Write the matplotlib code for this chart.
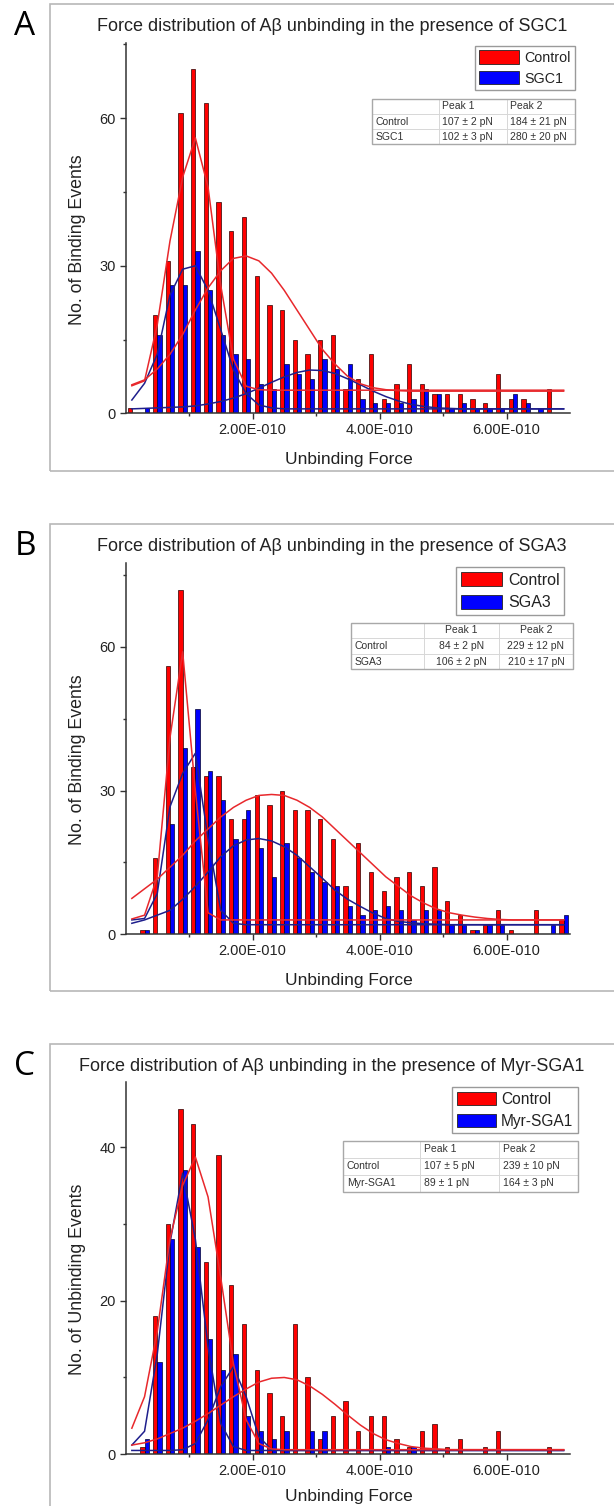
import matplotlib
matplotlib.use("Agg")
import matplotlib.pyplot as plt
from matplotlib.patches import Patch, Rectangle
from matplotlib.ticker import FixedLocator, FuncFormatter

plt.rcParams['font.family'] = ['Liberation Sans', 'DejaVu Sans']

# histogram bin centres, pN (20 pN bins)
force_bins = [10, 30, 50, 70, 90, 110, 130, 150, 170, 190, 210, 230, 250, 270, 290,
              310, 330, 350, 370, 390, 410, 430, 450, 470, 490, 510, 530, 550, 570,
              590, 610, 630, 650, 670, 690]

# --- panel A: SGC1 ---
ctrl_a = [1, 0, 20, 31, 61, 70, 63, 43, 37, 40, 28, 22, 21, 15, 12, 15, 16, 5, 7, 12,
          3, 6, 10, 6, 4, 4, 4, 3, 2, 8, 3, 3, 0, 5, 0]
sgc1_a = [0, 1, 16, 26, 26, 33, 25, 16, 12, 11, 6, 5, 10, 8, 7, 11, 9, 10, 3, 2,
          2, 2, 3, 5, 4, 1, 2, 1, 1, 1, 4, 2, 1, 0, 0]
ctrl_fit1_a = [5.6, 6.6, 18, 35, 48, 56, 46, 26, 11, 5.5, 4.8] + [4.7] * 24
ctrl_fit2_a = [5.8, 6.8, 9, 12, 16, 21, 25.5, 29, 31.5, 32, 31, 28.5, 25, 21, 17, 13,
               10, 7.5, 6, 5.2, 4.8, 4.6] + [4.5] * 13
sgc1_fit1_a = [2.7, 6.1, 12, 24, 29.3, 30, 25, 17, 8.8, 4, 1.7, 1.1] + [0.9] * 23
sgc1_fit2_a = [0.9, 1.0, 1.1, 1.2, 1.3, 1.5, 1.9, 2.4, 3.1, 4.0, 5.1, 6.3, 7.4, 8.3,
               8.8, 8.7, 8.1, 7.0, 5.8, 4.5, 3.4, 2.5, 1.8, 1.4, 1.1, 1.0] + [0.9] * 9
table_a = [["", "Peak 1", "Peak 2"],
           ["Control", "107 ± 2 pN", "184 ± 21 pN"],
           ["SGC1", "102 ± 3 pN", "280 ± 20 pN"]]

# --- panel B: SGA3 ---
ctrl_b = [0, 1, 16, 56, 72, 35, 33, 33, 24, 24, 29, 27, 30, 26, 26, 24, 20, 10, 19, 13,
          9, 12, 13, 10, 14, 7, 4, 1, 2, 5, 1, 0, 5, 0, 3]
sga3_b = [0, 1, 0, 23, 39, 47, 34, 28, 20, 26, 18, 12, 19, 16, 13, 11, 10, 6, 4, 5,
          6, 5, 3, 5, 5, 2, 2, 1, 2, 2, 0, 0, 0, 2, 4]
ctrl_fit1_b = [3.2, 4.0, 12, 41, 59, 30, 4.5] + [3.0] * 28
ctrl_fit2_b = [7.5, 9.5, 11.5, 14, 16.5, 19.5, 22, 24.5, 26.5, 28, 29, 29.2, 29, 28,
               26.5, 24.5, 22, 19.5, 17, 14.5, 12, 10, 8, 6.5, 5.3, 4.5, 4, 3.6, 3.3,
               3.1] + [3.0] * 5
sga3_fit1_b = [3.0, 3.3, 8.5, 26.6, 33.6, 37.8, 20, 5, 2.3] + [2.0] * 26
sga3_fit2_b = [2.3, 3.0, 4.0, 5.0, 7.3, 10, 13, 16.2, 18.5, 19.7, 20, 19.5, 18.3, 16.5,
               14.1, 11.7, 9.2, 7.3, 5.8, 4.4, 3.3, 2.7, 2.4, 2.2, 2.1] + [2.0] * 10
table_b = [["", "Peak 1", "Peak 2"],
           ["Control", "84 ± 2 pN", "229 ± 12 pN"],
           ["SGA3", "106 ± 2 pN", "210 ± 17 pN"]]

# --- panel C: Myr-SGA1 ---
ctrl_c = [0, 1, 18, 30, 45, 43, 25, 39, 22, 17, 11, 8, 5, 17, 10, 2, 5, 7, 3, 5,
          5, 2, 1, 3, 4, 1, 2, 0, 1, 3, 0, 0, 0, 1, 0]
myr_c = [0, 2, 12, 28, 37, 27, 15, 11, 13, 5, 3, 2, 3, 0, 3, 3, 0, 0, 0, 0,
         1, 0, 1, 0, 0, 0, 0, 0, 0, 0, 0, 0, 0, 0, 0]
ctrl_fit1_c = [3.4, 7.5, 16, 28, 35, 38.7, 33.5, 23, 11.8, 4.5, 1.4, 0.7] + [0.6] * 23
ctrl_fit2_c = [1.2, 1.5, 2.0, 2.7, 3.4, 4.3, 5.3, 6.4, 7.5, 8.5, 9.4, 9.9, 10, 9.7,
               8.9, 7.8, 6.5, 5.1, 3.8, 2.7, 1.9, 1.4, 1.0, 0.8, 0.7] + [0.6] * 10
myr_fit1_c = [1.2, 3.0, 13, 27.5, 36.6, 28, 14, 4, 1] + [0.5] * 26
myr_fit2_c = [0.5, 0.5, 0.5, 0.5, 0.6, 1.4, 4.5, 8.8, 11.4, 7.5, 2.3, 0.6] + [0.5] * 23
table_c = [["", "Peak 1", "Peak 2"],
           ["Control", "107 ± 5 pN", "239 ± 10 pN"],
           ["Myr-SGA1", "89 ± 1 pN", "164 ± 3 pN"]]

W, H = 614, 1506
fig = plt.figure(figsize=(W / 100, H / 100), dpi=100)

RED, BLUE = '#ff0000', '#0000ff'
RED_LINE, BLUE_LINE = '#e8282c', '#1e1e8c'


def sci_fmt(v, pos):
    m, e = f"{v * 1e-12:.2E}".split("E")
    return f"{m}E{int(e):04d}"


def panel(letter, top_px, frame_bottom, title, ylabel, ytop, yticks, yminor,
          ctrl, drug, fits, drug_name, table, ax_px, leg_box, leg_fs, leg_hl, leg_hh,
          tab_box, tab_center, xlabel_y):
    # grey panel frame and letter
    fig.add_artist(Rectangle((50 / W, 1 - frame_bottom / H), 620 / W,
                             (frame_bottom - top_px) / H, transform=fig.transFigure,
                             fill=False, edgecolor='#b8b8b8', lw=1.2))
    fig.text(25 / W, 1 - (top_px + 31) / H, letter, fontsize=24, ha='center',
             va='baseline', family=['Open Sans', 'DejaVu Sans'])
    fig.text(332 / W, 1 - (top_px + 27) / H, title, fontsize=13, ha='center',
             va='baseline', color='#222222')

    left, top, right, bottom = ax_px
    ax = fig.add_axes([left / W, 1 - bottom / H, (right - left) / W, (bottom - top) / H])
    ax.bar([c - 3.35 for c in force_bins], ctrl, width=6.7, color=RED,
           edgecolor='#2a0000', linewidth=0.5, zorder=2)
    ax.bar([c + 3.35 for c in force_bins], drug, width=6.7, color=BLUE,
           edgecolor='#00002a', linewidth=0.5, zorder=2)
    for ys, col in fits:
        ax.plot(force_bins, ys, color=col, lw=1.1, zorder=3)

    ax.set_xlim(0, 700)
    ax.set_ylim(0, ytop)
    for s in ('top', 'right'):
        ax.spines[s].set_visible(False)
    for s in ('left', 'bottom'):
        ax.spines[s].set_linewidth(1.1)
        ax.spines[s].set_color('#333333')
    ax.xaxis.set_major_locator(FixedLocator([200, 400, 600]))
    ax.xaxis.set_minor_locator(FixedLocator([100, 300, 500]))
    ax.xaxis.set_major_formatter(FuncFormatter(sci_fmt))
    ax.yaxis.set_major_locator(FixedLocator(yticks))
    ax.yaxis.set_minor_locator(FixedLocator(yminor))
    ax.tick_params(which='major', direction='out', length=4, width=1, color='#333333',
                   labelsize=10.5, labelcolor='#222222', pad=3)
    ax.tick_params(which='minor', direction='out', length=2.5, width=1, color='#333333')
    ax.set_xlabel('Unbinding Force', fontsize=12.5, color='#222222')
    ax.set_ylabel(ylabel, fontsize=12.8, color='#222222')
    ax.xaxis.set_label_coords(0.502, xlabel_y)
    ax.yaxis.set_label_coords(-0.089, 0.47)

    handles = [Patch(facecolor=RED, edgecolor='#222222', lw=0.6, label='Control'),
               Patch(facecolor=BLUE, edgecolor='#222222', lw=0.6, label=drug_name)]
    leg = ax.legend(handles=handles, loc='upper right', bbox_to_anchor=leg_box,
                    fancybox=False, edgecolor='#9a9a9a', framealpha=1,
                    fontsize=leg_fs, handlelength=leg_hl, handleheight=leg_hh,
                    handletextpad=0.35, labelspacing=0.45, borderpad=0.3,
                    borderaxespad=0)
    leg.get_frame().set_linewidth(1.0)
    for t in leg.get_texts():
        t.set_color('#222222')

    tb = ax.table(cellText=table, cellLoc='left', bbox=tab_box,
                  colWidths=[0.33, 0.335, 0.335])
    tb.auto_set_font_size(False)
    tb.set_fontsize(7.5)
    for (r, c), cell in tb.get_celld().items():
        cell.set_edgecolor('#d4d4d4')
        cell.set_linewidth(0.6)
        cell.PAD = 0.05
        cell.get_text().set_color('#333333')
        if tab_center and c > 0:
            cell.get_text().set_horizontalalignment('center')
    x0, y0, w, h = tab_box
    ax.add_patch(Rectangle((x0, y0), w, h, transform=ax.transAxes, fill=False,
                           edgecolor='#a8a8a8', lw=1.0, clip_on=False, zorder=5))
    return ax


panel('A', 4, 471, 'Force distribution of A\u03b2 unbinding in the presence of SGC1',
      'No. of Binding Events', 75.3, [0, 30, 60], [15, 45, 75],
      ctrl_a, sgc1_a,
      [(sgc1_fit1_a, BLUE_LINE), (sgc1_fit2_a, BLUE_LINE),
       (ctrl_fit1_a, RED_LINE), (ctrl_fit2_a, RED_LINE)],
      'SGC1', table_a, (125.5, 43, 570, 413.3),
      (1.011, 0.992), 10.3, 2.8, 1.05,
      [0.554, 0.727, 0.457, 0.122], False, -0.105)

panel('B', 524, 991, 'Force distribution of A\u03b2 unbinding in the presence of SGA3',
      'No. of Binding Events', 77.6, [0, 30, 60], [15, 45, 75],
      ctrl_b, sga3_b,
      [(sga3_fit1_b, BLUE_LINE), (sga3_fit2_b, BLUE_LINE),
       (ctrl_fit1_b, RED_LINE), (ctrl_fit2_b, RED_LINE)],
      'SGA3', table_b, (125.5, 562.7, 570, 934.3),
      (0.987, 0.988), 11.5, 2.6, 1.0,
      [0.507, 0.713, 0.500, 0.1255], True, -0.105)

panel('C', 1044, 1530, 'Force distribution of A\u03b2 unbinding in the presence of Myr-SGA1',
      'No. of Unbinding Events', 48.5, [0, 20, 40], [10, 30],
      ctrl_c, myr_c,
      [(myr_fit1_c, BLUE_LINE), (myr_fit2_c, BLUE_LINE),
       (ctrl_fit1_c, RED_LINE), (ctrl_fit2_c, RED_LINE)],
      'Myr-SGA1', table_c, (125.5, 1081.7, 570, 1454.3),
      (1.018, 0.986), 11.2, 2.5, 0.95,
      [0.489, 0.705, 0.529, 0.137], False, -0.0935)

fig.savefig('out.png', dpi=100)
